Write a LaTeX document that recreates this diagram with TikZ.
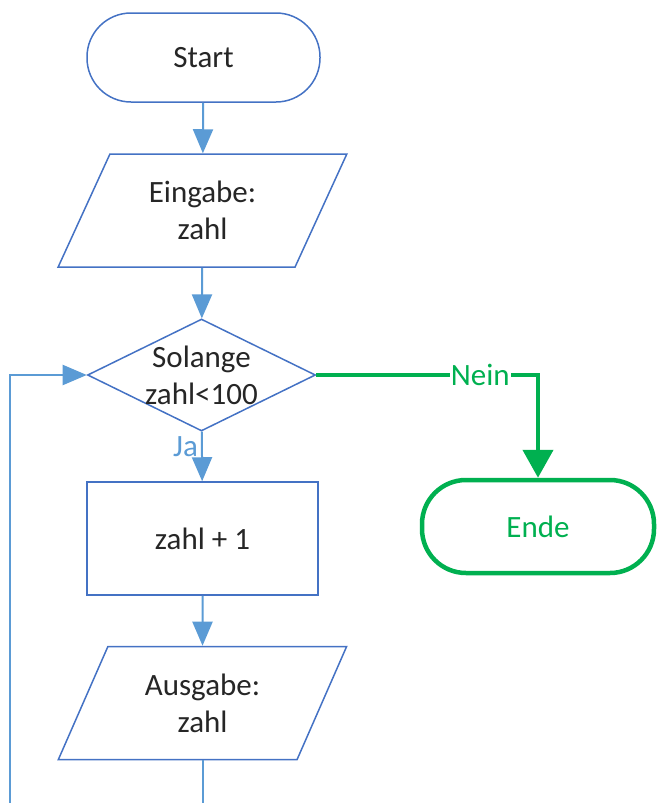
\documentclass[tikz,border=0pt]{standalone}
\usepackage{fontspec}
\setmainfont{Carlito}
\usetikzlibrary{shapes.geometric,arrows.meta}
\definecolor{shapeblue}{RGB}{68,114,196}
\definecolor{lineblue}{RGB}{91,155,213}
\definecolor{exitgreen}{RGB}{0,176,80}
\begin{document}
\begin{tikzpicture}[
  x=1pt,y=-1pt,
  every node/.style={font=\fontsize{31}{37}\selectfont,text=black!85,align=center},
  terminal/.style={draw=shapeblue,line width=1.5pt,rectangle,rounded corners=44pt,
   minimum width=233pt,minimum height=89pt},
  inout/.style={draw=shapeblue,line width=1.5pt,trapezium,trapezium stretches=true,
   trapezium left angle=64,trapezium right angle=116,
   minimum width=289pt,minimum height=113pt},
  decision/.style={draw=shapeblue,line width=1.5pt,diamond,inner sep=0pt,
   minimum width=228pt,minimum height=112pt},
  process/.style={draw=shapeblue,line width=1.5pt,rectangle,
   minimum width=231pt,minimum height=113pt},
  flow/.style={draw=lineblue,line width=2pt,-{Triangle[width=20pt,length=24pt]}},
  exitflow/.style={draw=exitgreen,line width=4.5pt,-{Triangle[width=30pt,length=28pt]}},
  endterminal/.style={terminal,draw=exitgreen,line width=4.5pt,text=exitgreen,
   minimum width=232pt,minimum height=93pt}
  ]
  \useasboundingbox (0,0) rectangle (657,803);

  \node[terminal] (start) at (203.5,57.5) {Start};
  \node[inout] (ein) at (202.5,210.5) {Eingabe:\\zahl};
  \node[decision] (loop) [label={[align=center]center:Solange\\zahl<100}] at (201.5,375) {};
  \node[process] (inc) at (202.5,538.5) {zahl + 1};
  \node[inout] (aus) at (202.5,703) {Ausgabe:\\zahl};
  \node[endterminal] (ende) at (538,526.5) {Ende};
  \coordinate (bend) at (10,840);

  \draw[flow] (start) -- (ein);
  \draw[flow] (ein) -- (loop);
  \draw[flow] (loop) -- node[pos=0.3,left,text=lineblue,inner sep=3pt] {Ja} (inc);
  \draw[flow] (inc) -- (aus);
  \draw[flow] (aus) |- (bend) |- (loop);
  \draw[exitflow] (loop) -| node[pos=0.37,fill=white,text=exitgreen,inner sep=1pt] {Nein} (ende);
\end{tikzpicture}
\end{document}
